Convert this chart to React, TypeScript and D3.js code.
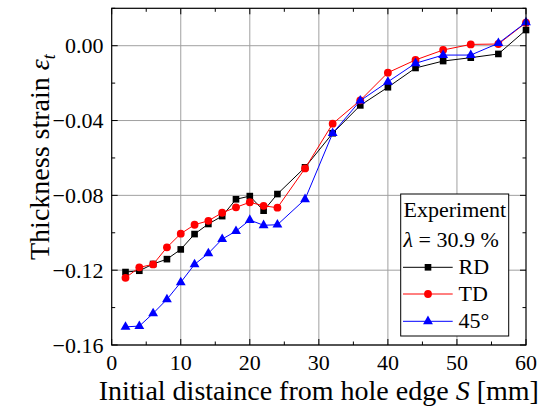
import React from "react";
import * as d3 from "d3";

const distances = [2, 4, 6, 8, 10, 12, 14, 16, 18, 20, 22, 24, 28, 32, 36, 40, 44, 48, 52, 56, 60];
const rdValues = [-0.1210, -0.1203, -0.1167, -0.1141, -0.1089, -0.1007, -0.0953, -0.0911, -0.0821, -0.0804, -0.0882, -0.0793, -0.0650, -0.0468, -0.0319, -0.0222, -0.0119, -0.0082, -0.0064, -0.0044, 0.0084];
const tdValues = [-0.1241, -0.1185, -0.1169, -0.1078, -0.1005, -0.0957, -0.0936, -0.0893, -0.0864, -0.0837, -0.0856, -0.0866, -0.0656, -0.0417, -0.0292, -0.0144, -0.0076, -0.0023, 0.0007, 0.0009, 0.0123];
const deg45Values = [-0.1503, -0.1499, -0.1431, -0.1356, -0.1265, -0.1169, -0.1110, -0.1034, -0.0991, -0.0932, -0.0960, -0.0957, -0.0821, -0.0468, -0.0294, -0.0193, -0.0094, -0.0050, -0.0050, 0.0013, 0.0125];

const xMajorTicks = [0, 10, 20, 30, 40, 50, 60];
const xMinorTicks = [5, 15, 25, 35, 45, 55];
const yMajorTicks = [0, -0.04, -0.08, -0.12, -0.16];
const yMinorTicks = [0.02, -0.02, -0.06, -0.1, -0.14];
const seriesNames = ["RD", "TD", "45°"];

const FONT = "Liberation Serif, DejaVu Serif, Times New Roman, serif";
const tf = { fontFamily: FONT };

export default function App() {
  const W = 559, H = 406;
  const x = d3.scaleLinear().domain([0, 60]).range([111.7, 526]);
  const y = d3.scaleLinear().domain([-0.16, 0.02]).range([345, 8.3]);
  const left = x(0), right = x(60), top = y(0.02), bottom = y(-0.16);

  const series = [
    { name: seriesNames[0], values: rdValues, color: "#000000", symbol: d3.symbolSquare, size: 44 },
    { name: seriesNames[1], values: tdValues, color: "#ff0000", symbol: d3.symbolCircle, size: 48 },
    { name: seriesNames[2], values: deg45Values, color: "#0000ff", symbol: d3.symbolTriangle, size: 42 },
  ];

  const line = d3.line<[number, number]>().x((d) => x(d[0])).y((d) => y(d[1]));

  const legendX = 400.7, legendY = 194, legendW = 108, legendH = 142;
  const legendRows = [267.3, 294, 321.3];

  return (
    <svg width={W} height={H} style={{ position: "absolute", left: 0, top: 0, background: "#fff", fontFamily: FONT }}>
      <rect x={0} y={0} width={W} height={H} fill="#fff" />
      {xMajorTicks.slice(1, -1).map((t) => (
        <line key={"gx" + t} x1={x(t)} x2={x(t)} y1={top} y2={bottom} stroke="#a0a0a0" strokeWidth={1} />
      ))}
      {yMajorTicks.map((t) => (
        <line key={"gy" + t} x1={left} x2={right} y1={y(t)} y2={y(t)} stroke="#a0a0a0" strokeWidth={1} />
      ))}
      {xMajorTicks.map((t) => (
        <g key={"tx" + t}>
          <line x1={x(t)} x2={x(t)} y1={bottom} y2={bottom - 6} stroke="#000" />
          <line x1={x(t)} x2={x(t)} y1={top} y2={top + 6} stroke="#000" />
          <text x={x(t)} y={370} fontSize={22} textAnchor="middle" fill="#000" style={tf}>{t}</text>
        </g>
      ))}
      {xMinorTicks.map((t) => (
        <g key={"mx" + t}>
          <line x1={x(t)} x2={x(t)} y1={bottom} y2={bottom - 3.5} stroke="#000" />
          <line x1={x(t)} x2={x(t)} y1={top} y2={top + 3.5} stroke="#000" />
        </g>
      ))}
      {yMajorTicks.map((t) => (
        <g key={"ty" + t}>
          <line x1={left} x2={left + 6} y1={y(t)} y2={y(t)} stroke="#000" />
          <line x1={right} x2={right - 6} y1={y(t)} y2={y(t)} stroke="#000" />
          <text x={103.5} y={y(t) + 7.5} fontSize={22} textAnchor="end" fill="#000" style={tf}>{d3.format(".2f")(t)}</text>
        </g>
      ))}
      {yMinorTicks.map((t) => (
        <g key={"my" + t}>
          <line x1={left} x2={left + 3.5} y1={y(t)} y2={y(t)} stroke="#000" />
          <line x1={right} x2={right - 3.5} y1={y(t)} y2={y(t)} stroke="#000" />
        </g>
      ))}
      {series.map((s) => {
        const pts: [number, number][] = distances.map((d, i) => [d, s.values[i]]);
        const sym = d3.symbol().type(s.symbol).size(s.size)();
        return (
          <g key={s.name}>
            <path d={line(pts) || ""} fill="none" stroke={s.color} strokeWidth={1} />
            {pts.map((p, i) => (
              <path key={i} d={sym || ""} transform={`translate(${x(p[0])},${y(p[1])})`} fill={s.color} />
            ))}
          </g>
        );
      })}
      <rect x={left} y={top} width={right - left} height={bottom - top} fill="none" stroke="#000" strokeWidth={1.2} />
      <rect x={legendX} y={legendY} width={legendW} height={legendH} fill="#fff" stroke="#000" strokeWidth={1} />
      <text x={403.5} y={216.7} fontSize={22} fill="#000" style={tf}>Experiment</text>
      <text x={403.5} y={246.7} fontSize={22} fill="#000" style={tf}>
        <tspan fontStyle="italic">λ</tspan> = 30.9 %
      </text>
      {series.map((s, i) => {
        const sym = d3.symbol().type(s.symbol).size(s.size)();
        return (
          <g key={"lg" + s.name}>
            <line x1={403} x2={452.7} y1={legendRows[i]} y2={legendRows[i]} stroke={s.color} strokeWidth={1} />
            <path d={sym || ""} transform={`translate(428,${legendRows[i]})`} fill={s.color} />
            <text x={458.5} y={legendRows[i] + 7} fontSize={22} fill="#000" style={tf}>{s.name}</text>
          </g>
        );
      })}
      <text x={318.8} y={399.5} fontSize={28} textAnchor="middle" fill="#000" style={tf}>
        Initial distaince from hole edge <tspan fontStyle="italic">S</tspan> [mm]
      </text>
      <text transform="translate(49,260) rotate(-90)" fontSize={28} fill="#000" style={tf}>
        Thickness strain <tspan fontStyle="italic">ε</tspan>
        <tspan fontStyle="italic" fontSize={18} dy={6}>t</tspan>
      </text>
    </svg>
  );
}
